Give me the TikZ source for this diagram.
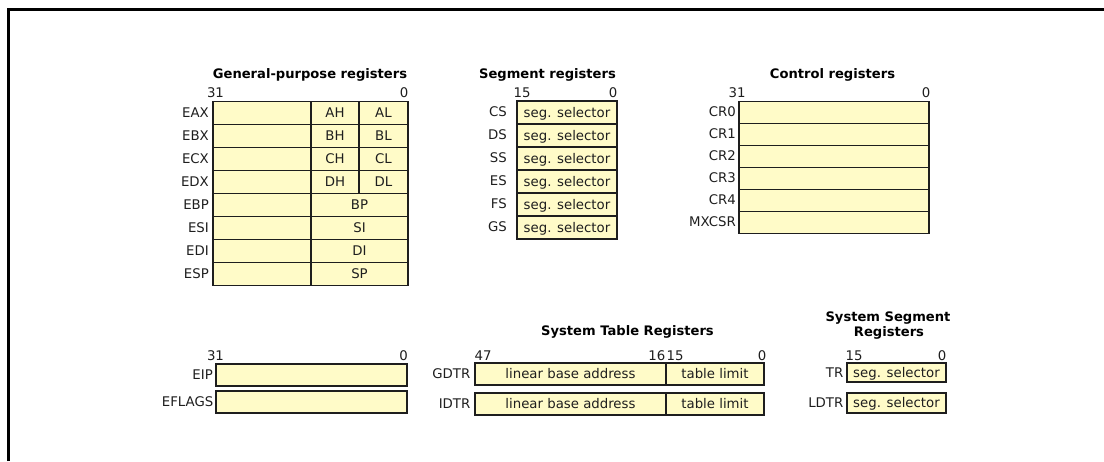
\documentclass[tikz,border=0pt]{standalone}
\usepackage{fontspec}
\setmainfont{DejaVu Sans}
\definecolor{regfill}{RGB}{255,251,200}
\definecolor{ink}{RGB}{30,30,30}
\newcommand\regfont{\fontsize{13.3}{16}\selectfont}
\newcommand\headfont{\fontsize{13.1}{15}\selectfont\bfseries}
\tikzset{
  regbox/.style={draw=ink, fill=regfill, line width=1.4pt, inner sep=0pt, outer sep=0pt,
    text height=9.7pt, text depth=0pt, font=\regfont, text=ink},
  reglabel/.style={anchor=east, inner sep=0pt, text height=9.7pt, text depth=0pt,
    font=\regfont, text=ink},
  bitno/.style={anchor=base, inner sep=0pt, font=\regfont, text=ink},
  bitnor/.style={bitno, anchor=base east},
  bitnol/.style={bitno, anchor=base west},
  heading/.style={anchor=base, inner sep=0pt, font=\headfont, text=black},
}
% register cell: name, left, top, right, bottom, contents
\newcommand\regcell[6]{%
  \node[regbox, minimum width={(#4)-(#2)}, minimum height={(#5)-(#3)}]
    (#1) at ({((#2)+(#4))/2},{((#3)+(#5))/2}) {#6};}
\begin{document}
\begin{tikzpicture}[x=1pt, y=-1pt]
\useasboundingbox (0,0) rectangle (1104,461);
% outer frame
\draw[line width=3pt, black] (8,461) -- (8,9) -- (1104,9);

% ---- general-purpose registers
\node[heading] (gp-title) at (310,78.5) {General-purpose registers};
\node[bitno] (gp-31) at (215.5,97.5) {31};
\node[bitnor] (gp-0) at (408.5,97.5) {0};
\foreach \name/\hi/\lo [count=\i from 0] in {EAX/AH/AL,EBX/BH/BL,ECX/CH/CL,EDX/DH/DL}{
  \pgfmathsetmacro\t{101.5+23*\i}
  \pgfmathsetmacro\b{\t+23}
  \pgfmathsetmacro\c{\t+11}
  \regcell{\name-top}{213}{\t}{311}{\b}{}
  \regcell{\name-hi}{311}{\t}{359}{\b}{\hi}
  \regcell{\name-lo}{359}{\t}{408}{\b}{\lo}
  \node[reglabel] (\name-lbl) at (209,\c) {\name};
}
\foreach \name/\lo [count=\i from 4] in {EBP/BP,ESI/SI,EDI/DI,ESP/SP}{
  \pgfmathsetmacro\t{101.5+23*\i}
  \pgfmathsetmacro\b{\t+23}
  \pgfmathsetmacro\c{\t+11}
  \regcell{\name-top}{213}{\t}{311}{\b}{}
  \regcell{\name-lo}{311}{\t}{408}{\b}{\lo}
  \node[reglabel] (\name-lbl) at (209,\c) {\name};
}

% ---- segment registers
\node[heading] (seg-title) at (547.5,78.5) {Segment registers};
\node[bitno] (seg-15) at (522,97.5) {15};
\node[bitnor] (seg-0) at (617.5,97.5) {0};
\foreach \name [count=\i from 0] in {CS,DS,SS,ES,FS,GS}{
  \pgfmathsetmacro\t{101+23*\i}
  \pgfmathsetmacro\b{\t+23}
  \pgfmathsetmacro\c{\t+11}
  \regcell{\name-sel}{517}{\t}{617}{\b}{seg. selector}
  \node[reglabel] (\name-lbl) at (507,\c) {\name};
}

% ---- control registers
\node[heading] (cr-title) at (832.5,78.5) {Control registers};
\node[bitno] (cr-31) at (737,97.5) {31};
\node[bitnor] (cr-0) at (930.5,97.5) {0};
\foreach \name [count=\i from 0] in {CR0,CR1,CR2,CR3,CR4,MXCSR}{
  \pgfmathsetmacro\t{101.5+22*\i}
  \pgfmathsetmacro\b{\t+22}
  \pgfmathsetmacro\c{\t+10.5}
  \regcell{\name-reg}{739}{\t}{929}{\b}{}
  \node[reglabel] (\name-lbl) at (736,\c) {\name};
}

% ---- instruction pointer and flags
\node[bitno] (ip-31) at (215.5,360.5) {31};
\node[bitnor] (ip-0) at (408,360.5) {0};
\regcell{EIP-reg}{216}{364}{407}{386}{}
\node[reglabel] (EIP-lbl) at (213,375) {EIP};
\regcell{EFLAGS-reg}{216}{391}{407}{413}{}
\node[reglabel] (EFLAGS-lbl) at (213.5,402) {EFLAGS};

% ---- system table registers
\node[heading] (st-title) at (627.5,335.5) {System Table Registers};
\node[bitno] (st-47) at (483,360) {47};
\node[bitnor] (st-16) at (665.5,360) {16};
\node[bitnol] (st-15) at (666.5,360) {15};
\node[bitnor] (st-0) at (766.5,360) {0};
\regcell{GDTR-base}{475}{363}{666}{385}{linear base address}
\regcell{GDTR-lim}{666}{363}{764}{385}{table limit}
\node[reglabel] (GDTR-lbl) at (470.5,374) {GDTR};
\regcell{IDTR-base}{475}{393}{666}{415}{linear base address}
\regcell{IDTR-lim}{666}{393}{764}{415}{table limit}
\node[reglabel] (IDTR-lbl) at (470.5,404) {IDTR};

% ---- system segment registers
\node[heading] (ss-title1) at (888,321) {System Segment};
\node[heading] (ss-title2) at (889,336) {Registers};
\node[bitno] (ss-15) at (854,360) {15};
\node[bitnor] (ss-0) at (946.5,360) {0};
\regcell{TR-sel}{847}{363}{946}{382}{seg. selector}
\node[reglabel] (TR-lbl) at (843.5,372.5) {TR};
\regcell{LDTR-sel}{847}{393}{946}{413}{seg. selector}
\node[reglabel] (LDTR-lbl) at (843.5,403) {LDTR};
\end{tikzpicture}
\end{document}
